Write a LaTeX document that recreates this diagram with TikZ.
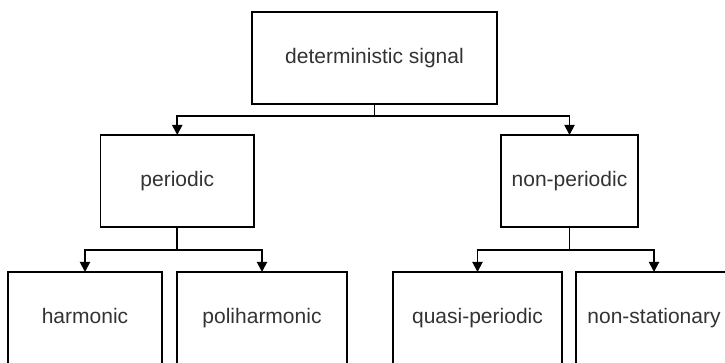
\documentclass[tikz,border=0pt]{standalone}
\usepackage{fontspec}
\setmainfont{Liberation Sans}
\usetikzlibrary{arrows.meta}
\definecolor{txt}{HTML}{333333}
\begin{document}
\begin{tikzpicture}[x=1pt,y=-1pt,
  box/.style={draw=black,line width=1.9pt,rectangle,inner sep=0pt,outer sep=0pt,
    font=\fontsize{21}{25}\selectfont,text=txt,text height=15pt,text depth=4.5pt},
  conn/.style={draw=black,line width=1.9pt},
  arr/.style={conn,-{Triangle[width=10pt,length=10pt]}}]
\useasboundingbox (0,0) rectangle (725,363);
\clip (0,0) rectangle (725,363);
\fill[white] (0,0) rectangle (725,363);
\node[box,minimum width=245pt,minimum height=92pt] (top) at (374.5,58) {deterministic signal};
\node[box,minimum width=153.5pt,minimum height=92pt] (per) at (177.25,181) {periodic};
\node[box,minimum width=137pt,minimum height=92pt] (nper) at (569.5,181) {non-periodic};
\node[box,minimum width=154pt,minimum height=93pt] (harm) at (85,318.5) {harmonic};
\node[box,minimum width=170pt,minimum height=93pt] (poli) at (262,318.5) {poliharmonic};
\node[box,minimum width=169pt,minimum height=93pt] (quasi) at (477.5,318.5) {quasi-periodic};
\node[box,minimum width=156pt,minimum height=93pt] (nstat) at (654,318.5) {non-stationary};
\coordinate (j1) at (374.5,116);
\coordinate (j2) at (177.25,250);
\coordinate (j3) at (569.5,250);
\draw[conn] (top.south) -- (j1);
\draw[arr] (j1) -| (per.north);
\draw[arr] (j1) -| (nper.north);
\draw[conn] (per.south) -- (j2);
\draw[arr] (j2) -| (harm.north);
\draw[arr] (j2) -| (poli.north);
\draw[conn] (nper.south) -- (j3);
\draw[arr] (j3) -| (quasi.north);
\draw[arr] (j3) -| (nstat.north);
\end{tikzpicture}
\end{document}
